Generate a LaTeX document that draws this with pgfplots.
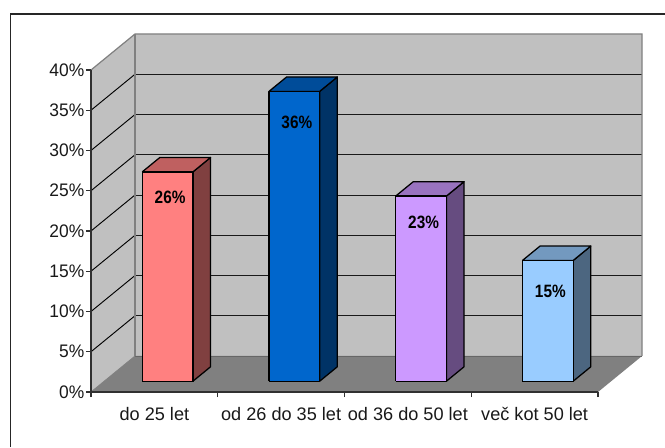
\documentclass[border=0pt]{standalone}
\usepackage{fontspec}
\setmainfont{Liberation Sans}
\usepackage{pgfplots}
\pgfplotsset{compat=1.18}

\definecolor{wall}{HTML}{C0C0C0}
\definecolor{floorgray}{HTML}{808080}
\definecolor{edgegray}{HTML}{808080}
\definecolor{axisdark}{HTML}{303030}
\definecolor{rosefront}{HTML}{FF8080}
\definecolor{rosetop}{HTML}{BF6060}
\definecolor{roseside}{HTML}{804040}
\definecolor{bluefront}{HTML}{0066CC}
\definecolor{bluetop}{HTML}{004C99}
\definecolor{blueside}{HTML}{003366}
\definecolor{violetfront}{HTML}{CC99FF}
\definecolor{violettop}{HTML}{9973BF}
\definecolor{violetside}{HTML}{664C80}
\definecolor{skyfront}{HTML}{99CCFF}
\definecolor{skytop}{HTML}{7399BF}
\definecolor{skyside}{HTML}{4C6680}

% One 3D column: left x, right x, height, colour stem, label x, label shift
\newcommand{\column}[6]{%
  \addplot3[fill=#4side, draw=black, line width=0.95pt, line join=round, mark=none] coordinates
    {(#2,0.3,0) (#2,0.7,0) (#2,0.7,#3) (#2,0.3,#3) (#2,0.3,0)};
  \addplot3[fill=#4top, draw=black, line width=0.95pt, line join=round, mark=none] coordinates
    {(#1,0.3,#3) (#2,0.3,#3) (#2,0.7,#3) (#1,0.7,#3) (#1,0.3,#3)};
  \addplot3[fill=#4front, draw=black, line width=0.95pt, line join=round, mark=none] coordinates
    {(#1,0.3,0) (#2,0.3,0) (#2,0.3,#3) (#1,0.3,#3) (#1,0.3,0)};
  \addplot3[draw=none, mark=none,
    nodes near coords={\scalebox{0.86}[1]{#3\%}},
    every node near coord/.style={anchor=center, inner sep=0pt, xshift=1.9pt, yshift=#6,
      font=\fontsize{13.4}{15}\selectfont\bfseries}]
    coordinates {(#5,0.3,#3)};
}
\newcommand{\gridlevel}[1]{%
  \addplot3[draw=black, line width=0.7pt, mark=none] coordinates {(0,0,#1) (0,1,#1)};
  \addplot3[draw=black!90, line width=0.7pt, mark=none] coordinates {(0,1,#1) (4,1,#1)};
}

\begin{document}
\begin{tikzpicture}
  \fill[white] (0pt,0pt) rectangle (498.75pt,335.25pt);
  % Chart frame, running off the right and bottom of the page
  \draw[black!85, line width=1.2pt] (7.9pt,0pt) -- (7.9pt,324.75pt) -- (498.75pt,324.75pt);

  % Box of the chart: walls, floor, gridlines and columns in oblique projection
  \begin{axis}[
    at={(68.25pt,41.25pt)}, anchor=origin,
    x={(95.0625pt,0pt)}, y={(33pt,27pt)}, z={(0pt,6.0375pt)},
    xmin=0, xmax=4, ymin=0, ymax=1, zmin=0, zmax=40,
    hide axis, clip=false,
  ]
    % left wall, back wall, floor
    \addplot3[fill=wall, draw=none, mark=none] coordinates {(0,0,0) (0,1,0) (0,1,40) (0,0,40) (0,0,0)};
    \addplot3[fill=wall, draw=none, mark=none] coordinates {(0,1,0) (4,1,0) (4,1,40) (0,1,40) (0,1,0)};
    \addplot3[fill=floorgray, draw=none, mark=none] coordinates {(0,0,0) (4,0,0) (4,1,0) (0,1,0) (0,0,0)};
    \gridlevel{5}\gridlevel{10}\gridlevel{15}\gridlevel{20}
    \gridlevel{25}\gridlevel{30}\gridlevel{35}
    \addplot3[draw=edgegray, line width=0.9pt, mark=none] coordinates {(0,0,40) (0,1,40) (4,1,40) (4,1,0)};
    \addplot3[draw=edgegray, line width=1pt, mark=none] coordinates {(0,1,0) (0,1,40)};
    \addplot3[draw=edgegray!80!black, line width=0.7pt, mark=none] coordinates {(0,1,0) (4,1,0)};
    \addplot3[draw=edgegray, line width=0.6pt, mark=none] coordinates {(0,0,0) (0,1,0)};

    \column{0.3}{0.7}{26}{rose}{0.5}{-19pt}
    \column{1.3}{1.7}{36}{blue}{1.5}{-23pt}
    \column{2.3}{2.7}{23}{violet}{2.5}{-19.5pt}
    \column{3.3}{3.7}{15}{sky}{3.5}{-23pt}
  \end{axis}

  % Front plane carrying the value axis and the category axis
  \begin{axis}[
    at={(68.25pt,41.25pt)}, anchor=south west,
    scale only axis, width=380.25pt, height=241.5pt,
    xmin=0, xmax=4, ymin=0, ymax=40,
    axis x line*=bottom, axis y line*=left,
    axis line style={axisdark, line width=0.8pt, -},
    tick align=outside, tick pos=lower,
    tick style={axisdark, line width=0.8pt},
    xtick={0.5,1.5,2.5,3.5},
    xticklabels={do 25 let, od 26 do 35 let, od 36 do 50 let, več kot 50 let},
    major x tick style={draw=none},
    minor xtick={0,1,2,3,4},
    minor tick length=3.8pt,
    ytick={0,5,...,40},
    major tick length=3.8pt,
    /pgf/number format/assume math mode=true,
    yticklabel={\scalebox{0.96}[1]{\pgfmathprintnumber{\tick}\%}},
    tick label style={font=\fontsize{13.6}{15}\selectfont, text=black!90},
    xticklabel style={inner sep=0pt, anchor=base, yshift=-17.3pt},
    yticklabel style={inner sep=0pt, xshift=-1pt},
  ]
    \addplot[draw=none, mark=none, forget plot] coordinates {(0,0) (4,40)};
  \end{axis}

  \pgfresetboundingbox
  \path[use as bounding box] (0pt,0pt) rectangle (498.75pt,335.25pt);
\end{tikzpicture}
\end{document}
